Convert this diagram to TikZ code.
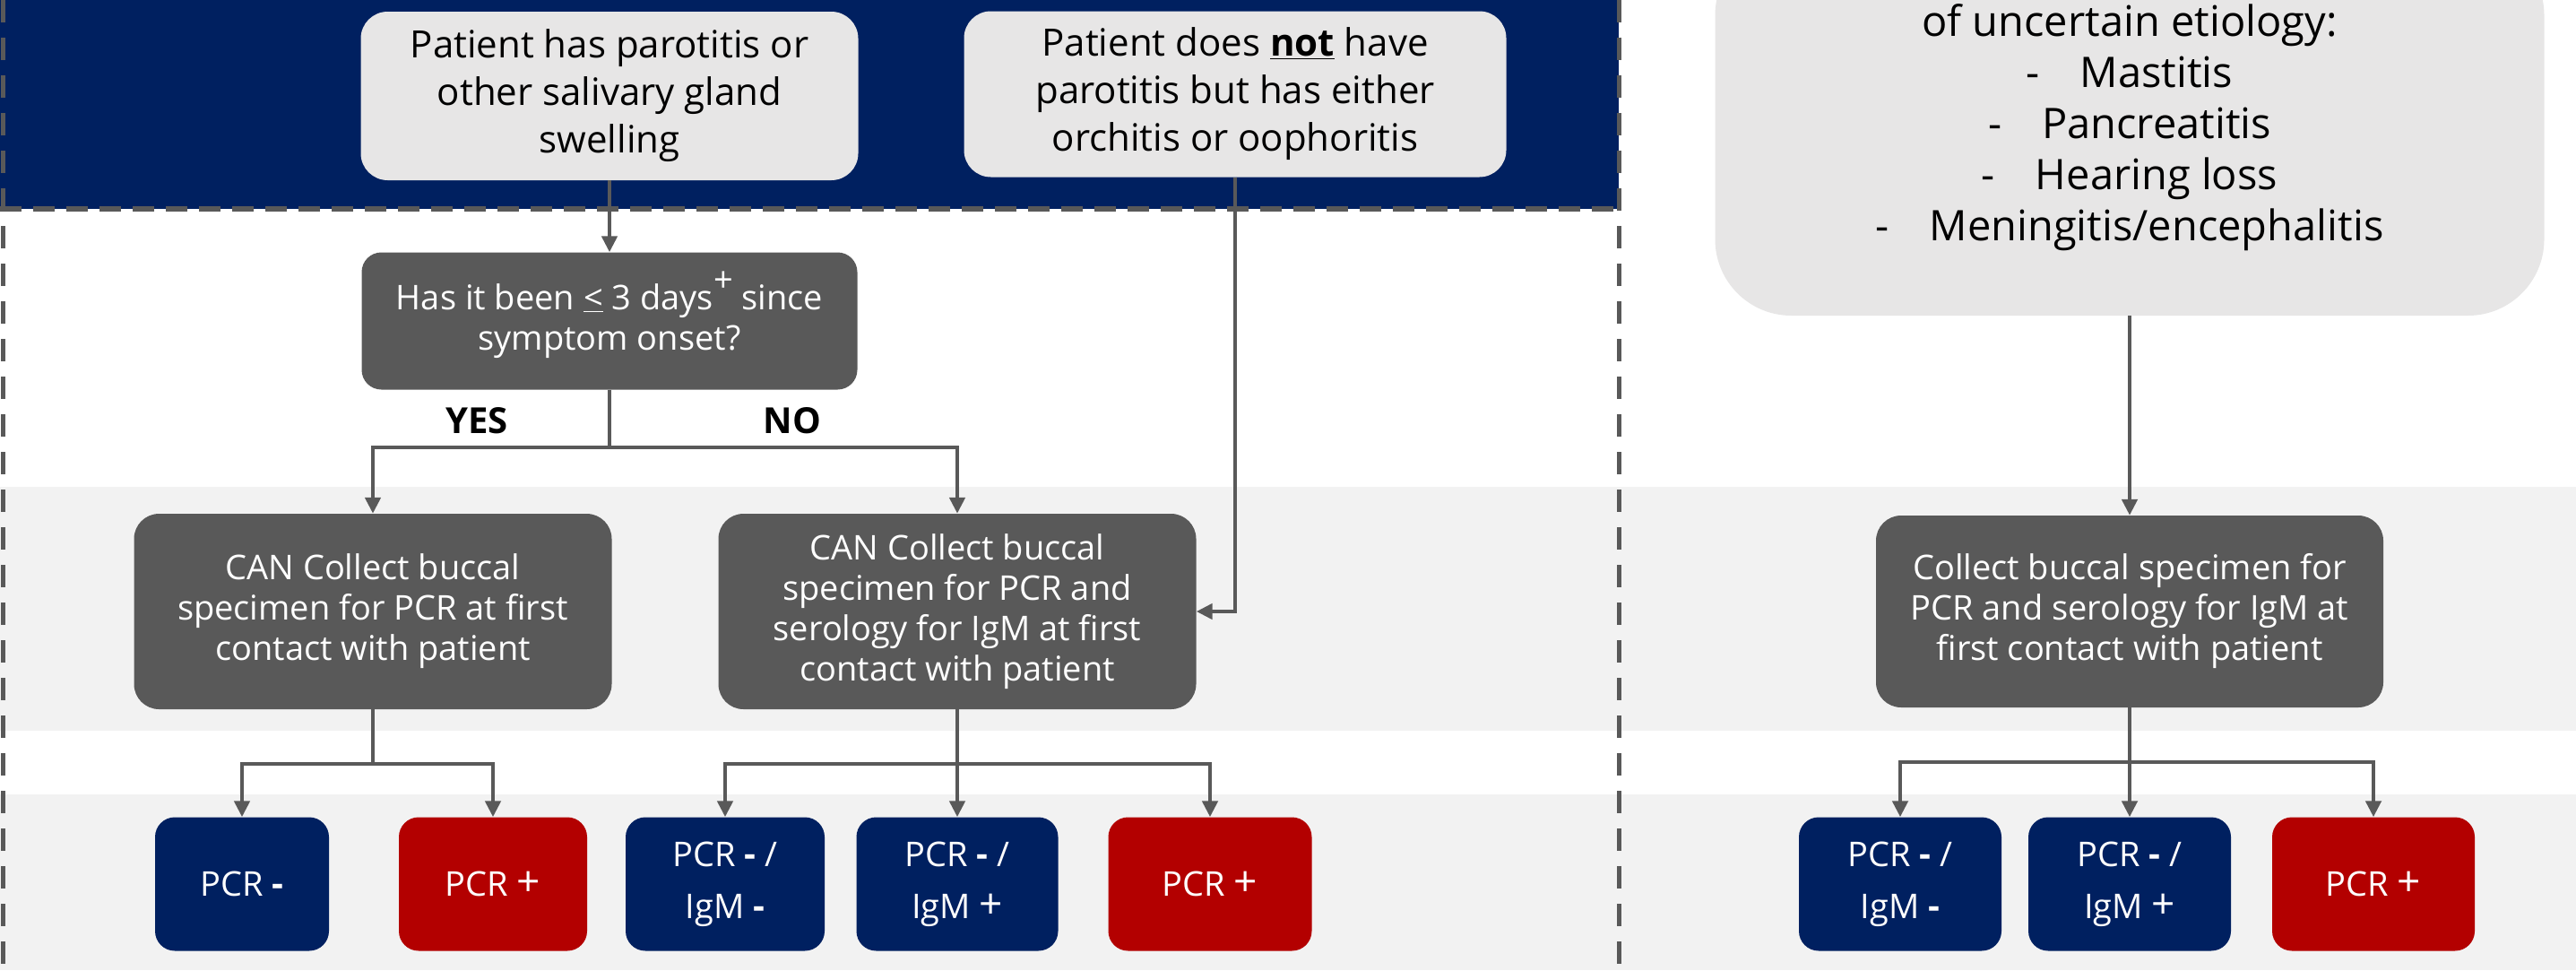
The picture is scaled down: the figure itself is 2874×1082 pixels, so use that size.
\documentclass[tikz,border=0pt]{standalone}
\usepackage{fontspec}
\setmainfont{Open Sans}
\usetikzlibrary{arrows.meta}
\definecolor{navy}{HTML}{002060}
\definecolor{redbox}{HTML}{B30000}
\definecolor{dgray}{HTML}{595959}
\definecolor{lgray}{HTML}{E7E6E6}
\definecolor{band}{HTML}{F2F2F2}
\newcommand{\bigplus}{{\fontsize{46}{46}\selectfont +}}
\newcommand{\bigminus}{{\fontsize{40}{40}\selectfont\bfseries -}}
\begin{document}
\begin{tikzpicture}[x=1pt,y=-1pt,
  conn/.style={draw=dgray, line width=4.5pt},
  arr/.style={conn, -{Triangle[length=18pt,width=17pt]}},
  topbox/.style={fill=lgray, rounded corners=30pt, align=center, inner sep=0pt, text=black, font=\fontsize{42}{53}\selectfont},
  darkbox/.style={fill=dgray, rounded corners=28pt, align=center, inner sep=0pt, text=white, font=\fontsize{38}{45}\selectfont},
  resbox/.style={rounded corners=22pt, align=center, inner sep=0pt, text=white, font=\fontsize{38}{58}\selectfont, minimum height=149pt},
  negbox/.style={resbox, fill=navy},
  posbox/.style={resbox, fill=redbox},
  dashv/.style={draw=dgray, line width=5pt, dash pattern=on 25pt off 17pt},
  dashh/.style={draw=dgray, line width=6pt, dash pattern=on 24pt off 13pt},
  lab/.style={font=\bfseries\fontsize{40}{40}\selectfont}
]
\useasboundingbox (0,0) rectangle (2874,1082);
\fill[band] (0,543) rectangle (2874,815);
\fill[band] (0,886) rectangle (2874,1082);
\fill[navy] (0,0) rectangle (1806,233);
\draw[dashv] (3,0) -- (3,1082);
\draw[dashv] (1806,0) -- (1806,1082);
\draw[dashh] (0,233) -- (1806,233);

\node[topbox, minimum width=555pt, minimum height=188pt] (p1) at (680,107) {Patient has parotitis or\\other salivary gland\\swelling};
\node[topbox, minimum width=605pt, minimum height=185pt] (p2) at (1378,105) {Patient does \underline{\textbf{not}} have\\parotitis but has either\\orchitis or oophoritis};
\node[darkbox, rounded corners=22pt, minimum width=553pt, minimum height=153pt, font=\fontsize{38}{45}\selectfont] (q) at (680,358) {Has it been \underline{<} 3 days\smash{\raisebox{20pt}{+}} since\\symptom onset?};
\node[lab] (yes) at (532,469) {YES};
\node[lab] (no) at (884,469) {NO};

\node[darkbox, minimum width=533pt, minimum height=218pt] (c1) at (416,682) {CAN Collect buccal\\specimen for PCR at first\\contact with patient};
\node[darkbox, minimum width=533pt, minimum height=218pt] (c2) at (1068,682) {CAN Collect buccal\\specimen for PCR and\\serology for IgM at first\\contact with patient};

\node[fill=lgray, rounded corners=85pt, minimum width=925pt, minimum height=420pt, align=center, inner sep=0pt, font=\fontsize{47}{57}\selectfont] (r) at (2376,142) {of uncertain etiology:\\-\hspace{45pt}Mastitis\\-\hspace{45pt}Pancreatitis\\-\hspace{45pt}Hearing loss\\-\hspace{45pt}Meningitis/encephalitis};
\node[darkbox, minimum width=566pt, minimum height=214pt] (c3) at (2376,682) {Collect buccal specimen for\\PCR and serology for IgM at\\first contact with patient};

\node[negbox, minimum width=194pt] (a1) at (270,986) {PCR \bigminus};
\node[posbox, minimum width=210pt] (a2) at (550,986) {PCR \bigplus};
\node[negbox, minimum width=222pt] (a3) at (809,986) {PCR \bigminus{} /\\IgM \bigminus};
\node[negbox, minimum width=225pt] (a4) at (1068,986) {PCR \bigminus{} /\\IgM \bigplus};
\node[posbox, minimum width=227pt] (a5) at (1350,986) {PCR \bigplus};
\node[negbox, minimum width=226pt] (b1) at (2120,986) {PCR \bigminus{} /\\IgM \bigminus};
\node[negbox, minimum width=226pt] (b2) at (2376,986) {PCR \bigminus{} /\\IgM \bigplus};
\node[posbox, minimum width=226pt] (b3) at (2648,986) {PCR \bigplus};

\coordinate (j1) at (680,499);
\coordinate (j2) at (416,852);
\coordinate (j3) at (1068,852);
\coordinate (j4) at (2376,850);

\draw[arr] (p1.south) -- (q.north);
\draw[conn] (q.south) -- (j1);
\draw[arr] (j1) -| (c1.north);
\draw[arr] (j1) -| (c2.north);
\draw[arr] (p2.south) |- (c2.east);
\draw[conn] (c1.south) -- (j2);
\draw[arr] (j2) -| (a1.north);
\draw[arr] (j2) -| (a2.north);
\draw[conn] (c2.south) -- (j3);
\draw[arr] (j3) -| (a3.north);
\draw[arr] (j3) -- (a4.north);
\draw[arr] (j3) -| (a5.north);
\draw[arr] (r.south) -- (c3.north);
\draw[conn] (c3.south) -- (j4);
\draw[arr] (j4) -| (b1.north);
\draw[arr] (j4) -- (b2.north);
\draw[arr] (j4) -| (b3.north);
\end{tikzpicture}
\end{document}
